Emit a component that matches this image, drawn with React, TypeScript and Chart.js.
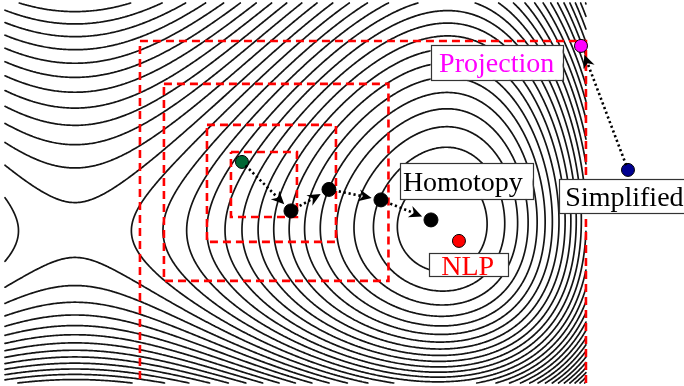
import React, { useEffect, useRef } from "react";
import { Chart, registerables } from "chart.js";

Chart.register(...registerables);

// Axis window in problem coordinates
const X_MIN = -0.189;
const X_MAX = 1.646;
const Y_MIN = -0.411;
const Y_MAX = 0.616;
// The objective is only sampled up to here
const FIELD_X_MAX = 1.381;

// Contour levels of the objective
const CONTOUR_LEVELS = [
  0.058, 0.122, 0.186, 0.25, 0.314, 0.378, 0.442, 0.506, 0.57, 0.634, 0.698,
  0.762, 0.826, 0.89, 0.954, 1.018, 1.082, 1.146, 1.21, 1.274, 1.338, 1.402,
  1.466, 1.53, 1.594, 1.658, 1.722, 1.786, 1.85, 1.914, 1.978, 2.042,
];

// Double-well objective with an exponential wall in y
const WELL_STEEPNESS = 2.7;
const WELL_WEIGHT = 0.9;
const VALLEY_LIFT = 0.015;
function objective(x: number, y: number): number {
  const a = x * x - 1;
  const b = WELL_STEEPNESS;
  const t = y - VALLEY_LIFT * x * x;
  return a * a + WELL_WEIGHT * (Math.exp(-b * t) - 1 + b * t);
}

// Homotopy iterates
const homotopyX = [0.4514, 0.5838, 0.6865, 0.827, 0.9622];
const homotopyY = [0.1865, 0.0541, 0.1122, 0.0838, 0.0297];
// Solutions of the other approaches
const nlpX = [1.0378];
const nlpY = [-0.027];
const simplifiedX = [1.4946];
const simplifiedY = [0.1649];
const projectionX = [1.3676];
const projectionY = [0.5];

// Nested trust regions
const regionLeft = [0.1757, 0.2405, 0.3568, 0.4216];
const regionRight = [1.381, 0.8473, 0.7054, 0.6];
const regionTop = [0.5135, 0.3973, 0.2865, 0.2135];
const regionBottom = [-0.6, -0.1351, -0.0297, 0.0378];

// Labels (box centres)
const labelText = ["Projection", "Homotopy", "Simplified", "NLP"];
const labelX = [1.1397, 1.0576, 1.4851, 1.0641];
const labelY = [0.4554, 0.1346, 0.0938, -0.0911];

const LABEL_STYLE: Record<string, { color: string; w: number; h: number; dx: number }> = {
  Projection: { color: "#ff00ff", w: 132, h: 35, dx: 0 },
  Homotopy: { color: "#000000", w: 132.7, h: 35.7, dx: -3.5 },
  Simplified: { color: "#000000", w: 131, h: 34, dx: 0 },
  NLP: { color: "#ff0000", w: 78.7, h: 23.3, dx: -1 },
};

type Seg = number[];

function buildContours(): Seg[] {
  const nx = 420;
  const ny = 280;
  const dx = (FIELD_X_MAX - X_MIN) / nx;
  const dy = (Y_MAX - Y_MIN) / ny;
  const g = new Float64Array((nx + 1) * (ny + 1));
  for (let j = 0; j <= ny; j++) {
    for (let i = 0; i <= nx; i++) {
      g[j * (nx + 1) + i] = objective(X_MIN + i * dx, Y_MIN + j * dy);
    }
  }
  const out: Seg[] = CONTOUR_LEVELS.map(() => []);
  const edgePt = (e: number, i: number, j: number, v: number[], L: number): [number, number] => {
    const x0 = X_MIN + i * dx;
    const y0 = Y_MIN + j * dy;
    let t: number;
    switch (e) {
      case 0:
        t = (L - v[0]) / (v[1] - v[0]);
        return [x0 + t * dx, y0];
      case 1:
        t = (L - v[1]) / (v[2] - v[1]);
        return [x0 + dx, y0 + t * dy];
      case 2:
        t = (L - v[3]) / (v[2] - v[3]);
        return [x0 + t * dx, y0 + dy];
      default:
        t = (L - v[0]) / (v[3] - v[0]);
        return [x0, y0 + t * dy];
    }
  };
  const table: Record<number, number[][]> = {
    1: [[3, 0]], 2: [[0, 1]], 3: [[3, 1]], 4: [[1, 2]], 6: [[0, 2]], 7: [[3, 2]],
    8: [[2, 3]], 9: [[0, 2]], 11: [[1, 2]], 12: [[1, 3]], 13: [[0, 1]], 14: [[0, 3]],
  };
  for (let j = 0; j < ny; j++) {
    for (let i = 0; i < nx; i++) {
      const v = [
        g[j * (nx + 1) + i],
        g[j * (nx + 1) + i + 1],
        g[(j + 1) * (nx + 1) + i + 1],
        g[(j + 1) * (nx + 1) + i],
      ];
      const lo = Math.min(v[0], v[1], v[2], v[3]);
      const hi = Math.max(v[0], v[1], v[2], v[3]);
      CONTOUR_LEVELS.forEach((L, k) => {
        if (L < lo || L > hi) return;
        const c = (v[0] > L ? 1 : 0) | (v[1] > L ? 2 : 0) | (v[2] > L ? 4 : 0) | (v[3] > L ? 8 : 0);
        if (c === 0 || c === 15) return;
        let pairs = table[c];
        if (c === 5 || c === 10) {
          const mid = (v[0] + v[1] + v[2] + v[3]) / 4;
          if ((mid > L) === (c === 5)) pairs = [[3, 2], [0, 1]];
          else pairs = [[3, 0], [1, 2]];
        }
        for (const [a, b] of pairs) {
          const p = edgePt(a, i, j, v, L);
          const q = edgePt(b, i, j, v, L);
          out[k].push(p[0], p[1], q[0], q[1]);
        }
      });
    }
  }
  return out;
}

const contourPlugin = {
  id: "contours",
  _segs: null as Seg[] | null,
  beforeDatasetsDraw(chart: any) {
    if (!this._segs) this._segs = buildContours();
    const { ctx } = chart;
    const xs = chart.scales.x;
    const ys = chart.scales.y;
    ctx.save();
    ctx.strokeStyle = "#141414";
    ctx.lineWidth = 1.7;
    ctx.lineCap = "round";
    ctx.lineJoin = "round";
    for (const s of this._segs) {
      ctx.beginPath();
      for (let n = 0; n < s.length; n += 4) {
        ctx.moveTo(xs.getPixelForValue(s[n]), ys.getPixelForValue(s[n + 1]));
        ctx.lineTo(xs.getPixelForValue(s[n + 2]), ys.getPixelForValue(s[n + 3]));
      }
      ctx.stroke();
    }
    ctx.restore();
  },
};

function drawArrow(ctx: CanvasRenderingContext2D, x1: number, y1: number, x2: number, y2: number) {
  const dx = x2 - x1;
  const dy = y2 - y1;
  const len = Math.hypot(dx, dy);
  const ux = dx / len;
  const uy = dy / len;
  const sx = x1 + ux * 5;
  const sy = y1 + uy * 5;
  const tx = x2 - ux * 9.5;
  const ty = y2 - uy * 9.5;
  const head = 13;
  const half = 6;
  const notch = 4;
  const bx = tx - ux * head;
  const by = ty - uy * head;
  ctx.save();
  ctx.strokeStyle = "#000";
  ctx.fillStyle = "#000";
  ctx.lineWidth = 2.6;
  ctx.setLineDash([2.2, 2.8]);
  ctx.beginPath();
  ctx.moveTo(sx, sy);
  ctx.lineTo(bx + ux * notch, by + uy * notch);
  ctx.stroke();
  ctx.setLineDash([]);
  ctx.beginPath();
  ctx.moveTo(tx, ty);
  ctx.lineTo(bx - uy * half, by + ux * half);
  ctx.lineTo(bx + ux * notch, by + uy * notch);
  ctx.lineTo(bx + uy * half, by - ux * half);
  ctx.closePath();
  ctx.fill();
  ctx.restore();
}

const annotationPlugin = {
  id: "annotations",
  afterDatasetsDraw(chart: any) {
    const { ctx } = chart;
    const xs = chart.scales.x;
    const ys = chart.scales.y;
    const px = (v: number) => xs.getPixelForValue(v);
    const py = (v: number) => ys.getPixelForValue(v);

    // label boxes
    ctx.save();
    ctx.font = '28px "Liberation Serif", "Times New Roman", serif';
    ctx.textAlign = "center";
    ctx.textBaseline = "alphabetic";
    labelText.forEach((t, i) => {
      const st = LABEL_STYLE[t];
      const cx = px(labelX[i]);
      const cy = py(labelY[i]);
      ctx.fillStyle = "#ffffff";
      ctx.fillRect(cx - st.w / 2, cy - st.h / 2, st.w, st.h);
      ctx.strokeStyle = "#333333";
      ctx.lineWidth = 1.2;
      ctx.strokeRect(Math.round(cx - st.w / 2) + 0.5, Math.round(cy - st.h / 2) + 0.5, Math.round(st.w), Math.round(st.h));
      ctx.fillStyle = st.color;
      ctx.fillText(t, cx + st.dx, cy + 10);
    });
    ctx.restore();

    // homotopy path
    for (let i = 0; i < homotopyX.length - 1; i++) {
      drawArrow(ctx, px(homotopyX[i]), py(homotopyY[i]), px(homotopyX[i + 1]), py(homotopyY[i + 1]));
    }
    // simplified -> projection
    drawArrow(ctx, px(simplifiedX[0]), py(simplifiedY[0]), px(projectionX[0]), py(projectionY[0]));
  },
};

const pts = (xs: number[], ys: number[]) => xs.map((x, i) => ({ x, y: ys[i] }));

export default function App() {
  const ref = useRef<HTMLCanvasElement | null>(null);
  useEffect(() => {
    document.body.style.margin = "0";
    const regions = regionLeft.map((l, i) => ({
      data: [
        { x: l, y: regionTop[i] },
        { x: regionRight[i], y: regionTop[i] },
        { x: regionRight[i], y: regionBottom[i] },
        { x: l, y: regionBottom[i] },
        { x: l, y: regionTop[i] },
      ],
      showLine: true,
      borderColor: "#ff0000",
      borderWidth: 2.6,
      borderDash: [8, 5],
      pointRadius: 0,
      fill: false,
      tension: 0,
    }));
    const chart = new Chart(ref.current as HTMLCanvasElement, {
      type: "scatter",
      data: {
        datasets: [
          {
            data: pts(homotopyX.slice(0, 1), homotopyY.slice(0, 1)),
            pointRadius: 6.5,
            backgroundColor: "#006633",
            borderColor: "#000",
            borderWidth: 1,
          },
          {
            data: pts(homotopyX.slice(1), homotopyY.slice(1)),
            pointRadius: 7,
            backgroundColor: "#000",
            borderColor: "#000",
            borderWidth: 1,
          },
          {
            data: pts(nlpX, nlpY),
            pointRadius: 6.5,
            backgroundColor: "#ff0000",
            borderColor: "#000",
            borderWidth: 1,
          },
          {
            data: pts(projectionX, projectionY),
            pointRadius: 6.5,
            backgroundColor: "#ff00ff",
            borderColor: "#000",
            borderWidth: 1,
          },
          {
            data: pts(simplifiedX, simplifiedY),
            pointRadius: 6.5,
            backgroundColor: "#000090",
            borderColor: "#000",
            borderWidth: 1,
          },
          ...regions,
        ] as any,
      },
      options: {
        responsive: false,
        animation: false,
        events: [],
        layout: { autoPadding: false, padding: { left: 5, right: 0, top: 3, bottom: 3 } },
        plugins: { legend: { display: false }, tooltip: { enabled: false } },
        scales: {
          x: { type: "linear", min: X_MIN, max: X_MAX, display: false },
          y: { type: "linear", min: Y_MIN, max: Y_MAX, display: false },
        },
      },
      plugins: [contourPlugin, annotationPlugin],
    });
    return () => chart.destroy();
  }, []);
  return (
    <div style={{ position: "absolute", left: 0, top: 0, width: 684, height: 386, background: "#fff" }}>
      <canvas ref={ref} width={684} height={386} style={{ display: "block" }} />
    </div>
  );
}
